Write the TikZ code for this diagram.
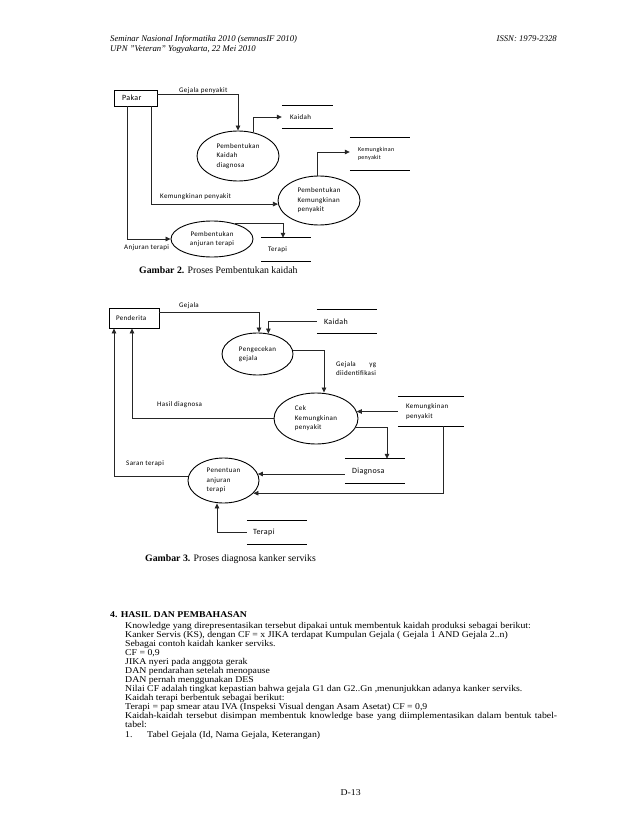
\documentclass[tikz,border=0pt]{standalone}
\usepackage{fontspec}
\setmainfont{Liberation Serif}
\newfontfamily\bodyfam[FakeStretch=1.1]{Liberation Serif}
\newfontfamily\cali[LetterSpace=5]{Carlito}
\usepackage{calc}
\usetikzlibrary{shapes.geometric,arrows.meta,calc}
\newcommand\dgf{\cali\fontsize{7}{9.5}\selectfont}
\newcommand\dgb{\cali\fontsize{8}{9.5}\selectfont}
\newcommand\dgs{\cali\fontsize{6}{8}\selectfont}
\newcommand\bodyf{\bodyfam\fontsize{8.9}{9.1}\selectfont}
\newcommand\hdrf{\fontsize{8.7}{10}\itshape\selectfont}
\newcommand\storelines[1]{\draw[stl] (#1.north west) -- (#1.north east) (#1.south west) -- (#1.south east);}
\tikzset{
  ln/.style={draw=black!85, line width=0.75pt},
  arr/.style={ln, -{Triangle[length=5pt,width=4.5pt]}},
  stl/.style={draw=black, line width=0.85pt},
  proc/.style={ellipse, draw=black, line width=0.9pt, inner sep=0pt, align=left, font=\dgf},
  ent/.style={rectangle, draw=black, line width=0.9pt, inner sep=0pt, align=left},
  store/.style={inner sep=0pt, align=left, font=\dgf},
  lbl/.style={inner sep=0pt, font=\dgf, anchor=west},
  body/.style={inner sep=0pt, anchor=base west, font=\bodyf},
  hdr/.style={inner sep=0pt, anchor=base west, font=\hdrf},
  captxt/.style={inner sep=0pt, anchor=base west, font=\fontsize{9.8}{11}\selectfont},
}
\begin{document}
\begin{tikzpicture}[x=1pt,y=-1pt]
\useasboundingbox[fill=white] (0,0) rectangle (638,826);

% header
\node[hdr] (h1) at (110,42) {Seminar Nasional Informatika 2010 (semnasIF 2010)};
\node[hdr] (h2) at (110,52) {UPN ''Veteran'' Yogyakarta, 22 Mei 2010};
\node[hdr, anchor=base east] (h3) at (557,42) {ISSN: 1979-2328};

% ---------- Gambar 2 ----------
\node[ent, font=\dgb, minimum width=43pt, minimum height=16pt, inner xsep=8pt, text width=27pt] (pakar) at (135.5,98) {Pakar};
\node[proc, minimum width=82pt, minimum height=50pt] (e1) at (238,156) {Pembentukan\\Kaidah\\diagnosa};
\node[proc, minimum width=82pt, minimum height=49pt] (e2) at (319,200.5) {Pembentukan\\Kemungkinan\\penyakit};
\node[proc, align=center, minimum width=82pt, minimum height=36pt] (e3) at (212,239) {Pembentukan\\anjuran terapi};

\node[store, minimum height=22pt, inner xsep=8pt, text width=35pt] (skaidah) at (307.5,117) {Kaidah};
\node[store, font=\dgs, minimum height=32pt, inner xsep=8pt, text width=44pt] (skem) at (380,154) {Kemungkinan\\penyakit};
\node[store, minimum height=23pt, inner xsep=7pt, text width=36pt] (sterapi) at (286,249.5) {Terapi};
\storelines{skaidah}
\storelines{skem}
\storelines{sterapi}

\node[lbl] (lgp) at (179,91) {Gejala penyakit};
\node[lbl] (lkp) at (160,197) {Kemungkinan penyakit};
\node[lbl] (lat) at (124,248) {Anjuran terapi};

\draw[arr] ([yshift=4pt]pakar.east) -| (e1.north);
\draw[arr] (e1.57) |- (skaidah.west);
\draw[arr] ([xshift=15.5pt]pakar.south) |- (e2.185);
\draw[arr] ([xshift=-8.5pt]pakar.south) |- (e3.west);
\draw[arr] (e3.33) -| ([xshift=-3pt]sterapi.north);
\draw[arr] ([xshift=-2pt]e2.north) |- ([yshift=2pt]skem.west);

\node[captxt] (cap2) at (139,273) {\textbf{Gambar 2.} Proses Pembentukan kaidah};

% ---------- Gambar 3 ----------
\node[ent, font=\dgf, minimum width=50pt, minimum height=20pt, inner xsep=7pt, text width=36pt] (pend) at (134,318) {Penderita};
\node[proc, minimum width=71pt, minimum height=42pt] (e4) at (257.5,354) {Pengecekan\\gejala};
\node[proc, minimum width=84pt, minimum height=51pt] (e5) at (316,418.5) {Cek\\Kemungkinan\\penyakit};
\node[proc, minimum width=71pt, minimum height=45pt] (e6) at (223.5,480.5) {Penentuan\\anjuran\\terapi};

\node[store, font=\dgb, minimum height=23pt, inner xsep=7pt, text width=46pt] (sk2) at (347,321.5) {Kaidah};
\node[store, minimum height=29pt, inner xsep=8pt, text width=50pt] (skem2) at (431,411.5) {Kemungkinan\\penyakit};
\node[store, font=\dgb, minimum height=24pt, inner xsep=7pt, text width=46pt] (sdiag) at (375,471) {Diagnosa};
\node[store, font=\dgb, minimum height=23pt, inner xsep=6pt, text width=48pt] (st2) at (277,532.5) {Terapi};
\storelines{sk2}
\storelines{skem2}
\storelines{sdiag}
\storelines{st2}

\node[lbl] (lg) at (179,306) {Gejala};
\node[lbl, align=left] (lgi) at (336,368.5) {\makebox[\widthof{diidentifikasi}][s]{Gejala\hfill yg}\\diidentifikasi};
\node[lbl] (lhd) at (157,405) {Hasil diagnosa};
\node[lbl] (lst) at (126,464) {Saran terapi};

\draw[arr] ([yshift=6pt]pend.east) -| ([xshift=1.5pt]e4.north);
\draw[arr] (sk2.west) -| (e4.62);
\draw[arr] ([yshift=4pt]e4.east) -| ([xshift=8pt]e5.north);
\draw[arr] (e5.west) -| ([xshift=-2pt]pend.south);
\draw[arr] (skem2.west) -- (skem2.west -| e5.10);
\draw[arr] (e5.-13) -| ([xshift=12pt]sdiag.north);
\draw[arr] ([yshift=-3pt]sdiag.west) -- ([yshift=-3pt]sdiag.west -| e6.11);
\draw[arr] ([xshift=12pt]skem2.south) |- (e6.-23);
\draw[arr] (e6.173) -| ([xshift=-20pt]pend.south);
\draw[arr] (st2.west) -| ([xshift=-6.5pt]e6.south);

\node[captxt] (cap3) at (145,561) {\textbf{Gambar 3.} Proses diagnosa kanker serviks};

% ---------- text ----------
\node[body, font=\bodyf\bfseries] (hd) at (110,617) {4. HASIL DAN PEMBAHASAN};
\node[body] (t1) at (125,628) {Knowledge yang direpresentasikan tersebut dipakai untuk membentuk kaidah produksi sebagai berikut:};
\node[body] (t2) at (125,637.1) {Kanker Servis (KS), dengan CF = x JIKA terdapat Kumpulan Gejala ( Gejala 1 AND Gejala 2..n)};
\node[body] (t3) at (125,646.2) {Sebagai contoh kaidah kanker serviks.};
\node[body] (t4) at (125,655.2) {CF = 0,9};
\node[body] (t5) at (125,664.3) {JIKA nyeri pada anggota gerak};
\node[body] (t6) at (125,673.4) {DAN pendarahan setelah menopause};
\node[body] (t7) at (125,682.5) {DAN pernah menggunakan DES};
\node[body] (t8) at (125,691.6) {Nilai CF adalah tingkat kepastian bahwa gejala G1 dan G2..Gn ,menunjukkan adanya kanker serviks.};
\node[body] (t9) at (125,700.6) {Kaidah terapi berbentuk sebagai berikut:};
\node[body] (t10) at (125,709.7) {Terapi = pap smear atau IVA (Inspeksi Visual dengan Asam Asetat) CF = 0,9};
\node[body] (t11) at (125,718.8) {\makebox[432pt][s]{Kaidah-kaidah tersebut disimpan membentuk knowledge base yang diimplementasikan dalam bentuk tabel-}};
\node[body] (t12) at (125,727.9) {tabel:};
\node[body] (t13) at (125,737) {\makebox[22pt][l]{1.}Tabel Gejala (Id, Nama Gejala, Keterangan)};
\node[body] (pg) at (350,795) {\makebox[0pt]{D-13}};
\end{tikzpicture}
\end{document}
